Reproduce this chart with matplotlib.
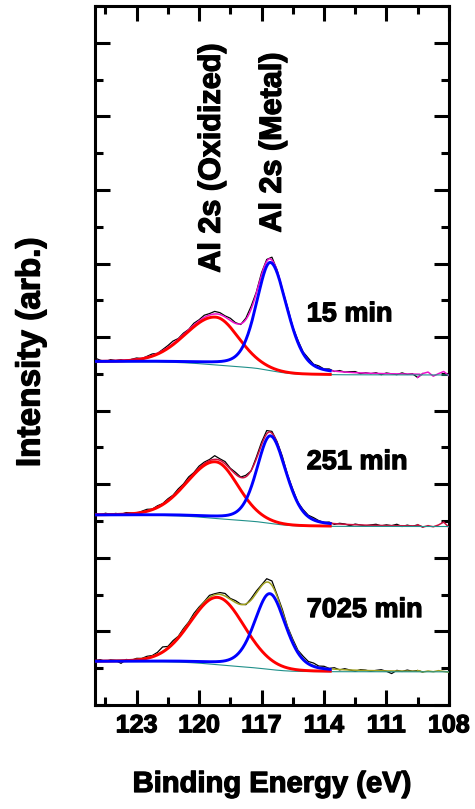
import numpy as np
import matplotlib
matplotlib.use('Agg')
from matplotlib import pyplot as plt
from matplotlib import patheffects
from matplotlib.ticker import MultipleLocator

plt.rcParams['font.family'] = ['Liberation Sans', 'DejaVu Sans']
plt.rcParams['font.weight'] = 'bold'

# fitted components (intensity in tick units)
labels = ['15 min', '251 min', '7025 min']
label_y = [10.62, 6.60, 2.58]
bg_high = [9.33, 5.16, 1.18]
bg_low = [8.97, 4.85, 0.90]
ox_center = [119.2, 119.2, 119.1]
ox_height = [1.30, 1.54, 1.83]
ox_hw_high = [1.70, 1.62, 1.55]
ox_hw_low = [1.30, 1.27, 1.50]
met_center = [116.57, 116.57, 116.6]
met_height = [2.94, 2.38, 2.06]
met_hw_high = [0.80, 0.78, 0.88]
met_hw_low = [0.95, 0.90, 0.90]
sum_colors = ['#ee11cc', '#cc1040', '#a0a020']

# measured spectra = fit envelope + these residuals, one value every 0.25 eV from 125 to 108 eV
res_15 = [0.08, 0.02, -0.02, 0.03, 0.00,
          0.02, -0.03, 0.01, 0.03,
          -0.01, 0.02, 0.04, 0.00,
          0.03, 0.05, 0.07, 0.02,
          0.04, 0.01, 0.05, 0.03,
          0.06, 0.04, 0.07, 0.05,
          0.03, 0.06, 0.02, -0.02,
          0.04, 0.08, 0.03, 0.06,
          0.05, 0.08, 0.02, -0.03,
          0.04, 0.01, 0.05, 0.03,
          0.06, 0.02, 0.05, 0.01,
          0.04, -0.01, 0.03, 0.00,
          0.02, 0.03, -0.02, 0.01,
          -0.01, 0.02, -0.03, 0.02,
          0.00, -0.02, 0.03, -0.01,
          0.01, -0.09, 0.02, 0.06,
          -0.05, 0.02, 0.08, -0.03]
res_251 = [0.02, -0.02, 0.03, 0.00, 0.02,
           -0.01, 0.03, 0.01, -0.02,
           0.02, 0.04, 0.00, 0.03,
           0.01, 0.04, 0.02, 0.05,
           0.03, 0.06, 0.02, 0.05,
           0.04, 0.03, 0.10, 0.04,
           0.06, 0.02, 0.05, 0.01,
           0.04, -0.01, 0.05, 0.07,
           0.09, 0.05, 0.03, 0.06,
           0.02, 0.05, 0.01, 0.04,
           0.03, 0.05, 0.02, 0.00,
           0.03, -0.02, 0.02, 0.01,
           -0.03, 0.02, 0.00, -0.02,
           0.01, 0.03, -0.01, 0.02,
           0.00, 0.04, -0.02, 0.02,
           -0.01, 0.03, -0.03, 0.01,
           -0.02, 0.03, 0.11, -0.03]
res_7025 = [0.01, 0.03, -0.02, 0.02, 0.00,
            -0.08, 0.02, -0.01, 0.03,
            0.01, 0.04, 0.02, 0.05,
            0.12, 0.03, 0.06, 0.02,
            0.05, 0.03, 0.06, 0.04,
            0.02, 0.06, 0.03, 0.05,
            0.07, 0.02, 0.05, 0.01,
            -0.02, 0.04, 0.06, 0.03,
            0.09, 0.12, 0.04, 0.06,
            0.02, 0.05, 0.03, 0.06,
            0.04, 0.07, 0.03, 0.05,
            0.01, 0.04, -0.01, 0.03,
            0.00, -0.03, 0.02, 0.01,
            -0.02, 0.01, 0.03, -0.01,
            -0.07, 0.02, -0.01, 0.03,
            0.00, 0.02, -0.02, 0.01,
            -0.01, 0.02, 0.00, -0.02]
residuals = [res_15, res_251, res_7025]

xticks = [123, 120, 117, 114, 111, 108]

heavy = [patheffects.withStroke(linewidth=0.9, foreground='black')]


def peak(E, c, h, hw_hi, hw_lo, eta):
    hw = np.where(E >= c, hw_hi, hw_lo)
    u = (E - c) / hw
    return h * (eta / (1 + u ** 2) + (1 - eta) * np.exp(-np.log(2) * u ** 2))


E = np.linspace(108, 125, 681)  # 0.025 eV, every 10th point is a data point

fig = plt.figure(figsize=(4.75, 8.09), dpi=100)
ax = fig.add_axes([0.2, 0.1286, 0.745, 0.864])

for i in range(3):
    ox = peak(E, ox_center[i], ox_height[i], ox_hw_high[i], ox_hw_low[i], 0.1)
    met = peak(E, met_center[i], met_height[i], met_hw_high[i], met_hw_low[i], 0.35)
    # shirley type background from the fitted peak area
    area = np.concatenate([[0], np.cumsum((ox[1:] + ox[:-1] + met[1:] + met[:-1]) / 2 * np.diff(E))])
    bg = bg_low[i] + (bg_high[i] - bg_low[i]) * area / area[-1]
    env = bg + ox + met

    Ed = E[::10]
    data = env[::10] + np.array(residuals[i][::-1])
    keep = Ed >= 109.25
    ax.plot(Ed[keep], data[keep], color='black', lw=0.9, zorder=2)
    ax.plot(Ed[Ed <= 109.5], data[Ed <= 109.5], color=sum_colors[i], lw=1.1, zorder=3)
    fit = E >= 109.4
    ax.plot(E[fit], env[fit], color=sum_colors[i], lw=1.1, zorder=3)
    ax.plot(E, bg, color='#20908a', lw=0.8, zorder=4)
    comp = E >= 113.7
    ax.plot(E[comp], bg[comp] + ox[comp], color='#ff0000', lw=2.1, zorder=5)
    ax.plot(E[comp], bg[comp] + met[comp], color='#0000ff', lw=2.1, zorder=6)

    ax.text(114.83, label_y[i], labels[i], fontsize=19.5, fontweight='bold',
            ha='left', va='center', path_effects=heavy)

ax.text(119.39, 14.86, 'Al 2s (Oxidized)', rotation=90, fontsize=22,
        fontweight='bold', ha='center', va='center', path_effects=heavy)
ax.text(116.46, 15.28, 'Al 2s (Metal)', rotation=90, fontsize=22,
        fontweight='bold', ha='center', va='center', path_effects=heavy)

ax.set_xlim(125, 108)
ax.set_ylim(0, 19)
ax.set_xticks(xticks)
ax.set_xticklabels([str(t) for t in xticks])
ax.xaxis.set_minor_locator(MultipleLocator(1.5))
ax.yaxis.set_major_locator(MultipleLocator(2))
ax.yaxis.set_minor_locator(MultipleLocator(1))
ax.tick_params(which='both', direction='in', top=True, right=True, width=2.2,
               labelleft=False)
ax.tick_params(which='major', length=11, labelsize=18, pad=6)
ax.tick_params(which='minor', length=6)
for lab in ax.get_xticklabels():
    lab.set_fontweight('bold')
    lab.set_path_effects(heavy)
for s in ax.spines.values():
    s.set_linewidth(2.2)

fig.text(272 / 475, 1 - 784 / 809, 'Binding Energy (eV)', fontsize=21,
         fontweight='bold', ha='center', va='center', path_effects=heavy)
fig.text(31 / 475, 1 - 352 / 809, 'Intensity (arb.)', rotation=90, fontsize=24,
         fontweight='bold', ha='center', va='center', path_effects=heavy)

fig.savefig('out.png', dpi=100)
